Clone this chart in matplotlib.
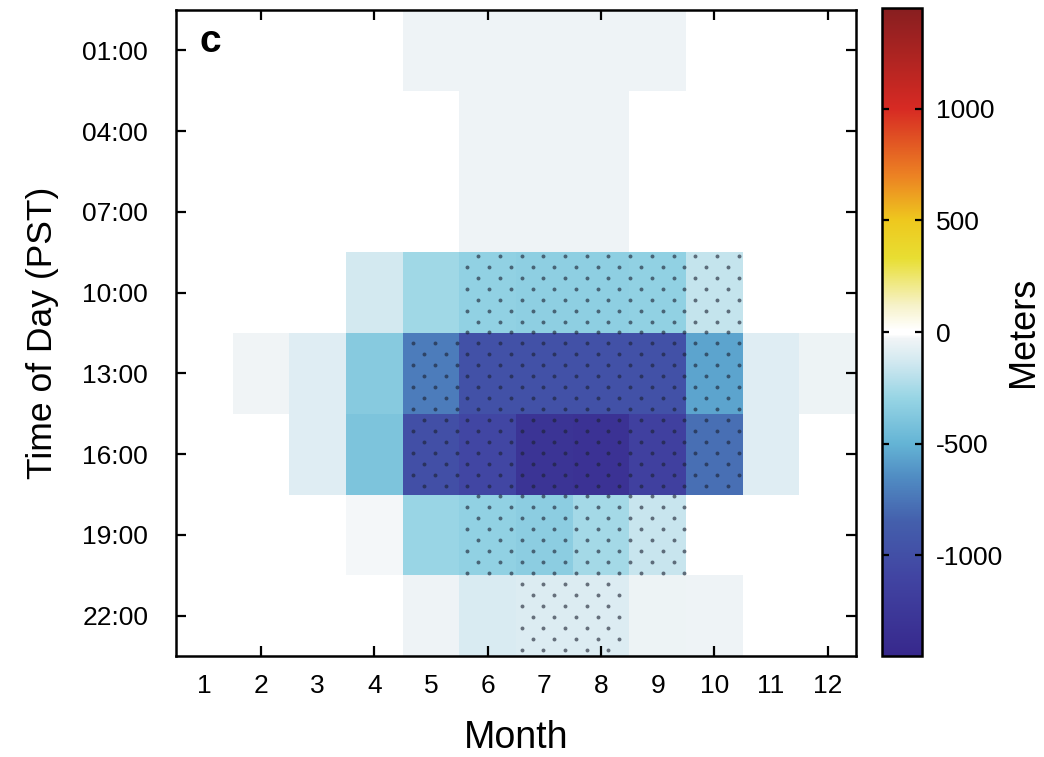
import numpy as np
import matplotlib
matplotlib.use('Agg')
import matplotlib.pyplot as plt
from matplotlib.colors import LinearSegmentedColormap

plt.rcParams['font.family'] = ['Liberation Sans', 'DejaVu Sans']
plt.rcParams['axes.unicode_minus'] = False

months = list(range(1, 13))
hours = ['01:00', '04:00', '07:00', '10:00', '13:00', '16:00', '19:00', '22:00']

# diurnal anomaly (m), one row per 3-hour bin, months Jan..Dec
h01 = [0, 0, 0, 0, -35, -35, -35, -35, -35, 0, 0, 0]
h04 = [0, 0, 0, 0, 0, -35, -35, -35, 0, 0, 0, 0]
h07 = [0, 0, 0, 0, 0, -35, -35, -35, 0, 0, 0, 0]
h10 = [0, 0, 0, -130, -270, -320, -330, -330, -320, -170, 0, 0]
h13 = [0, -30, -90, -360, -720, -980, -980, -980, -980, -560, -90, -40]
h16 = [0, 0, -90, -400, -1000, -1080, -1300, -1320, -1150, -780, -90, 0]
h19 = [0, 0, 0, -25, -290, -320, -340, -260, -160, 0, 0, 0]
h22 = [0, 0, 0, 0, -35, -110, -100, -100, -40, -35, 0, 0]

# significant cells (stippled)
s01 = [0] * 12
s04 = [0] * 12
s07 = [0] * 12
s10 = [0, 0, 0, 0, 0, 1, 1, 1, 1, 1, 0, 0]
s13 = [0, 0, 0, 0, 1, 1, 1, 1, 1, 1, 0, 0]
s16 = [0, 0, 0, 0, 1, 1, 1, 1, 1, 1, 0, 0]
s19 = [0, 0, 0, 0, 0, 1, 1, 1, 1, 0, 0, 0]
s22 = [0, 0, 0, 0, 0, 0, 1, 1, 0, 0, 0, 0]

Z = np.array([h01, h04, h07, h10, h13, h16, h19, h22], dtype=float)
S = np.array([s01, s04, s07, s10, s13, s16, s19, s22], dtype=bool)

vmax = 1450
stops = [(-1450, (55, 40, 140)), (-1100, (65, 68, 162)), (-850, (68, 95, 172)),
         (-650, (80, 140, 195)), (-500, (100, 180, 213)), (-300, (150, 212, 228)),
         (-120, (214, 234, 241)), (-30, (240, 244, 246)), (-10, (255, 255, 255)),
         (10, (255, 255, 255)), (120, (246, 242, 200)), (330, (232, 222, 50)),
         (500, (238, 200, 30)), (700, (236, 130, 35)), (1000, (215, 42, 35)),
         (1450, (135, 30, 32))]
cmap = LinearSegmentedColormap.from_list(
    'wc', [((v + vmax) / (2 * vmax), tuple(c / 255 for c in rgb)) for v, rgb in stops],
    N=1024)

fig = plt.figure(figsize=(10.44, 7.57), dpi=100)
ax = fig.add_axes([176 / 1044, 101 / 757, 680 / 1044, 646 / 757])
cax = fig.add_axes([882 / 1044, 101 / 757, 40 / 1044, 648 / 757])

xe = np.arange(0.5, 13, 1)
ye = np.arange(0.5, 9, 1)
mesh = ax.pcolormesh(xe, ye, Z, cmap=cmap, vmin=-vmax, vmax=vmax)

# stipple dots on a staggered grid
dx, dy = 0.383, 0.1354
px, py = [], []
for k, y in enumerate(np.arange(0.567, 8.5, dy)):
    off = 0.5 * dx if k % 2 else 0.0
    for x in np.arange(0.472 + off, 12.5, dx):
        i = int(np.clip(np.floor(y - 0.5), 0, 7))
        j = int(np.clip(np.floor(x - 0.5), 0, 11))
        if S[i, j]:
            px.append(x)
            py.append(y)
ax.scatter(px, py, s=8, color='#1c2233', linewidths=0, alpha=0.62)

ax.set_xlim(0.5, 12.5)
ax.set_ylim(8.5, 0.5)
ax.set_xticks(months)
ax.set_xticklabels([str(m) for m in months])
ax.set_yticks(range(1, 9))
ax.set_yticklabels(hours)
ax.tick_params(direction='in', length=7, width=1.6, labelsize=19,
               top=True, right=True)
ax.tick_params(axis='x', pad=13)
ax.tick_params(axis='y', pad=20)
for m, t in zip(months, ax.xaxis.get_major_ticks()):
    if m % 2:
        t.tick1line.set_visible(False)
        t.tick2line.set_visible(False)
for sp in ax.spines.values():
    sp.set_linewidth(1.8)
ax.set_xlabel('Month', fontsize=27, labelpad=16)
ax.set_ylabel('Time of Day (PST)', fontsize=25.5, labelpad=17)
ax.text(0.035, 0.978, 'c', transform=ax.transAxes, fontsize=28,
        fontweight='bold', ha='left', va='top')

cb = fig.colorbar(mesh, cax=cax, ticks=[-1000, -500, 0, 500, 1000])
cb.outline.set_linewidth(1.8)
cax.tick_params(direction='in', length=5, width=1.6, labelsize=19,
                left=True, right=True, pad=10)
cb.set_label('Meters', fontsize=26, labelpad=2)

fig.savefig('out.png', dpi=100)
